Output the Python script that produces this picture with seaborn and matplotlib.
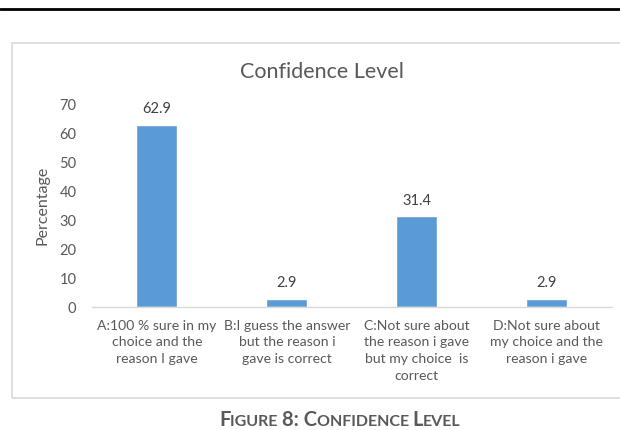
import matplotlib
matplotlib.use("Agg")
import matplotlib.pyplot as plt
import seaborn as sns
import pandas as pd
from matplotlib.patches import Rectangle
from matplotlib.lines import Line2D

# Data
categories = [
    "A:100 % sure in my\nchoice and the\nreason I gave",
    "B:I guess the answer\nbut the reason i\ngave is correct",
    "C:Not sure about\nthe reason i gave\nbut my choice  is\ncorrect",
    "D:Not sure about\nmy choice and the\nreason i gave",
]
values = [62.9, 2.9, 31.4, 2.9]
value_labels = ["62.9", "2.9", "31.4", "2.9"]
y_ticks = [0, 10, 20, 30, 40, 50, 60, 70]

sns.set_theme(style="white")
plt.rcParams["font.family"] = ["Lato", "DejaVu Sans"]

df = pd.DataFrame({"category": categories, "value": values})

fig = plt.figure(figsize=(6.2, 4.3), dpi=100)
ax = fig.add_axes([0.148, 0.286, 0.839, 0.472])

sns.barplot(data=df, x="category", y="value", color="#5B9BD5",
            width=0.315, saturation=1, ax=ax)

ax.set_ylim(0, 70)
ax.set_yticks(y_ticks)
ax.set_yticklabels([str(t) for t in y_ticks])
ax.set_xlim(-0.5, 3.5)
ax.set_xlabel("")
ax.set_ylabel("Percentage", fontsize=11.5, color="#595959", labelpad=7)
ax.tick_params(axis="y", length=0, labelsize=10.5, labelcolor="#595959", pad=11)
ax.tick_params(axis="x", length=0, labelsize=10.1, labelcolor="#595959", pad=9)
for lab in ax.get_xticklabels():
    lab.set_linespacing(1.48)

for side in ["top", "right", "left"]:
    ax.spines[side].set_visible(False)
ax.spines["bottom"].set_color("#D9D9D9")
ax.spines["bottom"].set_linewidth(1)

for i, (v, txt) in enumerate(zip(values, value_labels)):
    ax.annotate(txt, (i, v), xytext=(0, 6), textcoords="offset points",
                ha="center", va="bottom", fontsize=10.5, color="#404040")

fig.text(0.52, 0.832, "Confidence Level", ha="center", va="center",
         fontsize=15.5, color="#595959")

# chart frame and top rule
fig.patches.append(Rectangle((12 / 620, 1 - 398 / 430), 1.0, (398 - 43) / 430,
                             transform=fig.transFigure, fill=False,
                             edgecolor="#D9D9D9", linewidth=1.2))
fig.lines.append(Line2D([0, 1], [1 - 8.5 / 430, 1 - 8.5 / 430],
                        transform=fig.transFigure, color="black", linewidth=2))

# caption in small caps, built from pieces
pieces = [("F", 14.5), ("IGURE ", 11.5), ("8: C", 14.5), ("ONFIDENCE ", 11.5),
          ("L", 14.5), ("EVEL", 11.5)]
fig.canvas.draw()
renderer = fig.canvas.get_renderer()
x = 219 / 620
y = 1 - 426 / 430
for s, size in pieces:
    t = fig.text(x, y, s, fontsize=size, fontweight="bold", color="#595959",
                 ha="left", va="baseline")
    bb = t.get_window_extent(renderer=renderer)
    x += bb.width / fig.bbox.width

fig.savefig("out.png", dpi=100)
